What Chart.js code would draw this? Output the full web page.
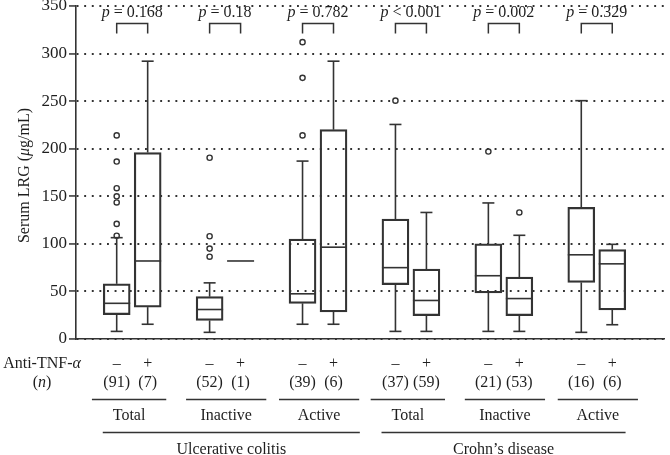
<!DOCTYPE html>
<html><head><meta charset="utf-8">
<script src="https://cdn.jsdelivr.net/npm/chart.js@4"></script>
<style>html,body{margin:0;padding:0;background:#fff}#wrap{width:670px;height:455px;position:relative}canvas{display:block}</style>
</head><body><div id="wrap"><canvas id="c" width="670" height="455" style="width:670px;height:455px"></canvas></div>
<script>
// ---- data ----
const diseases = ['Ulcerative colitis', 'Crohn\u2019s disease'];
const activity = ['Total', 'Inactive', 'Active', 'Total', 'Inactive', 'Active'];
const treatment = ['\u2013', '+'];
const nCounts = [91, 7, 52, 1, 39, 6, 37, 59, 21, 53, 16, 6];
const pSigns = ['=', '=', '=', '<', '=', '='];
const pValues = ['0.168', '0.18', '0.782', '0.001', '0.002', '0.329'];
const whiskerLow  = [8, 15.5, 7, null, 15.5, 15.5, 8, 8, 8, 8, 7, 15];
const q1          = [25.5, 33.5, 19.5, null, 37.5, 28.5, 57, 24.5, 48.5, 24.5, 59.5, 30.5];
const median      = [37.5, 82, 31, 82, 47.5, 96.5, 75, 40.5, 66.5, 42.5, 88.5, 79];
const q3          = [58, 196, 44.5, null, 105, 220, 126, 73.5, 100, 65, 138.5, 94];
const whiskerHigh = [106.5, 292, 59, null, 187, 292, 225.5, 133, 143, 109, 250.5, 99.5];
const outliers = [[214, 186.5, 158.5, 150, 143.5, 121, 108.5], [], [190.5, 108, 95, 86.5], [],
                  [312, 274.5, 214], [], [250.5], [], [197], [133], [], []];
const yTicks = [0, 50, 100, 150, 200, 250, 300, 350];

// ---- layout helpers ----
const FONT = "'Liberation Serif', 'Times New Roman', serif";
const INK = '#1e1e1e';
const LINE = '#333';
const xPos = i => Math.floor(i / 2) * 3 + (i % 2);   // slot index: pair, pair, gap...

const boxData = [];
q1.forEach((v, i) => { if (v != null) boxData.push({x: xPos(i), y: [q1[i], q3[i]]}); });
const outData = [];
outliers.forEach((arr, i) => arr.forEach(v => outData.push({x: xPos(i), y: v})));

function rich(ctx, parts, x, y, align, size) {
  size = size || 16;
  const w = parts.map(p => { ctx.font = (p[1] ? 'italic ' : '') + size + 'px ' + FONT; return ctx.measureText(p[0]).width; });
  const tot = w.reduce((a, b) => a + b, 0);
  let cx = align === 'center' ? x - tot / 2 : (align === 'right' ? x - tot : x);
  ctx.textAlign = 'left'; ctx.textBaseline = 'middle'; ctx.fillStyle = INK;
  parts.forEach((p, i) => { ctx.font = (p[1] ? 'italic ' : '') + size + 'px ' + FONT; ctx.fillText(p[0], cx, y); cx += w[i]; });
}
function hline(ctx, x1, x2, y) { ctx.beginPath(); ctx.moveTo(x1, y); ctx.lineTo(x2, y); ctx.stroke(); }
function vline(ctx, x, y1, y2) { ctx.beginPath(); ctx.moveTo(x, y1); ctx.lineTo(x, y2); ctx.stroke(); }

const boxPlugin = {
  id: 'boxparts',
  afterDatasetsDraw(chart) {
    const ctx = chart.ctx, xs = chart.scales.x, ys = chart.scales.y;
    ctx.save();
    ctx.strokeStyle = LINE; ctx.lineWidth = 1.6;
    median.forEach((m, i) => {
      const X = xs.getPixelForValue(xPos(i));
      if (whiskerHigh[i] != null) {
        vline(ctx, X, ys.getPixelForValue(q3[i]), ys.getPixelForValue(whiskerHigh[i]));
        hline(ctx, X - 6, X + 6, ys.getPixelForValue(whiskerHigh[i]));
      }
      if (whiskerLow[i] != null) {
        vline(ctx, X, ys.getPixelForValue(q1[i]), ys.getPixelForValue(whiskerLow[i]));
        hline(ctx, X - 6, X + 6, ys.getPixelForValue(whiskerLow[i]));
      }
      hline(ctx, X - 13.5, X + 13.5, ys.getPixelForValue(m));
    });
    ctx.restore();
  },
  afterDraw(chart) {
    const ctx = chart.ctx, xs = chart.scales.x, ys = chart.scales.y, B = chart.chartArea.bottom;
    ctx.save();
    ctx.strokeStyle = LINE; ctx.lineWidth = 1.5;
    // p-value brackets
    pValues.forEach((p, g) => {
      const xa = xs.getPixelForValue(g * 3), xb = xs.getPixelForValue(g * 3 + 1);
      const yt = ys.getPixelForValue(331.5), yb = ys.getPixelForValue(321);
      ctx.beginPath(); ctx.moveTo(xa, yb); ctx.lineTo(xa, yt); ctx.lineTo(xb, yt); ctx.lineTo(xb, yb); ctx.stroke();
      rich(ctx, [['p', true], [' ' + pSigns[g] + ' ' + p, false]], (xa + xb) / 2, ys.getPixelForValue(342.5), 'center');
    });
    // treatment and n rows
    rich(ctx, [['Anti-TNF-', false], ['\u03b1', true]], 42, B + 24.5, 'center');
    rich(ctx, [['(', false], ['n', true], [')', false]], 42, B + 43.5, 'center');
    nCounts.forEach((n, i) => {
      const X = xs.getPixelForValue(xPos(i));
      rich(ctx, [[treatment[i % 2], false]], X, B + 24.5, 'center');
      rich(ctx, [['(' + n + ')', false]], X, B + 43.5, 'center');
    });
    // activity underline + labels
    activity.forEach((a, g) => {
      const lo = a === 'Total' ? -0.8 : -0.76, hi = a === 'Total' ? 1.6 : 1.83;
      const x1 = xs.getPixelForValue(g * 3 + lo), x2 = xs.getPixelForValue(g * 3 + hi);
      hline(ctx, x1, x2, B + 60.5);
      rich(ctx, [[a, false]], (x1 + x2) / 2, B + 77, 'center');
    });
    // disease underline + labels
    diseases.forEach((d, k) => {
      const x1 = xs.getPixelForValue(k * 9 - 0.45), x2 = xs.getPixelForValue(k * 9 + 7.85 - k * 0.42);
      hline(ctx, x1, x2, B + 93.5);
      rich(ctx, [[d, false]], (x1 + x2) / 2, B + 111, 'center');
    });
    // y title
    ctx.translate(25, (chart.chartArea.top + B) / 2 + 3);
    ctx.rotate(-Math.PI / 2);
    rich(ctx, [['Serum LRG (', false], ['\u03bc', true], ['g/mL)', false]], 0, 0, 'center');
    ctx.restore();
  }
};

new Chart(document.getElementById('c'), {
  type: 'bar',
  data: {
    datasets: [
      { type: 'bar', data: boxData, backgroundColor: 'rgba(0,0,0,0)', borderColor: LINE, borderWidth: 1.6,
        borderSkipped: false, barThickness: 27, grouped: false, order: 2 },
      { type: 'scatter', data: outData, pointRadius: 2.6, pointBorderWidth: 1.4, pointBackgroundColor: '#fff',
        pointBorderColor: LINE, pointStyle: 'circle', order: 1 }
    ]
  },
  options: {
    responsive: false, animation: false, devicePixelRatio: 1,
    layout: { padding: { left: 0, top: 6, right: 1, bottom: 116 } },
    plugins: { legend: { display: false }, tooltip: { enabled: false } },
    scales: {
      x: { type: 'linear', min: -1.314, max: 17.69, offset: false,
           ticks: { display: false }, grid: { display: false },
           border: { display: true, color: LINE, width: 1.6 },
           afterFit: s => { s.height = 0; s.paddingLeft = 0; s.paddingRight = 0; } },
      y: { type: 'linear', min: 0, max: 350,
           afterBuildTicks: s => { s.ticks = yTicks.map(v => ({value: v})); },
           ticks: { font: { family: FONT, size: 17 }, color: INK, padding: 2 },
           grid: { color: '#333', lineWidth: 1.9, tickLength: 7, tickColor: LINE, tickWidth: 1.5, tickBorderDash: [] },
           border: { display: true, color: LINE, width: 1.6, dash: [1.9, 5.7] },
           afterFit: s => { s.width = 76; s.paddingTop = 0; s.paddingBottom = 0; } }
    }
  },
  plugins: [boxPlugin]
});
</script></body></html>
